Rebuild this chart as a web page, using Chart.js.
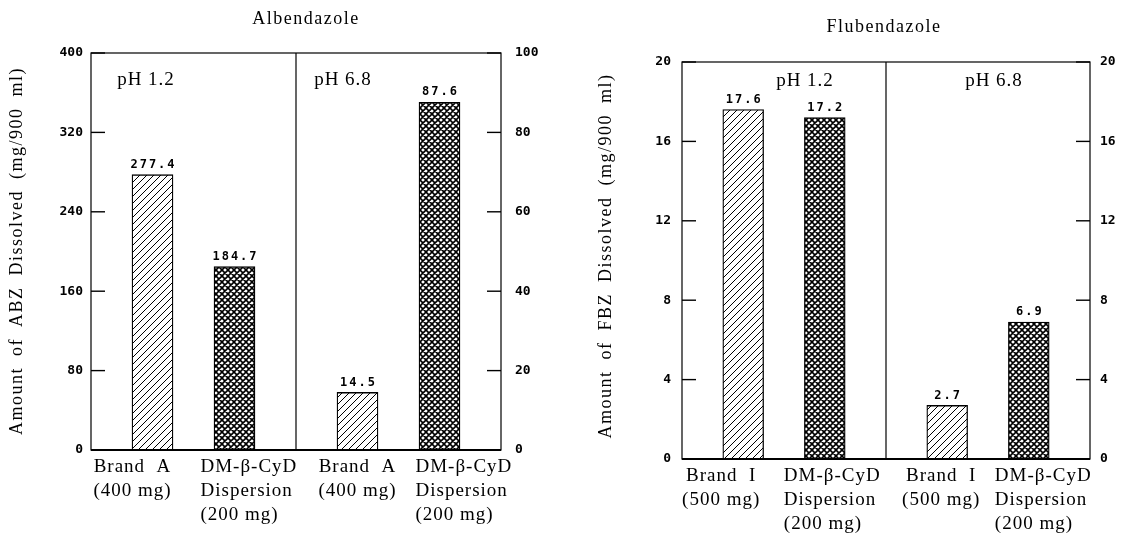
<!DOCTYPE html>
<html>
<head>
<meta charset="utf-8">
<title>Amount of ABZ / FBZ dissolved</title>
<script src="https://cdn.jsdelivr.net/npm/chart.js@4.4.1/dist/chart.umd.min.js"></script>
<style>
  html, body { margin: 0; padding: 0; background: #fff; }
  #wrap { position: relative; width: 1137px; height: 536px; overflow: hidden; }
  canvas { position: absolute; top: 0; }
  #abz { left: 0; }
  #fbz { left: 560px; }
</style>
</head>
<body>
<div id="wrap">
  <canvas id="abz" width="560" height="536"></canvas>
  <canvas id="fbz" width="577" height="536"></canvas>
</div>
<script>
/* ---------- Data ---------- */
// 10 slots per chart: empty slots are the gaps around the bars
const abzCategories = ['', ['Brand  A', '(400 mg)'], '', ['DM-β-CyD', 'Dispersion', '(200 mg)'], '',
                       '', ['Brand  A', '(400 mg)'], '', ['DM-β-CyD', 'Dispersion', '(200 mg)'], ''];
const abzPh12 = [null, 277.4, null, 184.7, null, null, null, null, null, null]; // left axis, mg/900 ml
const abzPh68 = [null, null, null, null, null, null, 14.5, null, 87.6, null];   // right axis
const abzLeftTicks = [0, 80, 160, 240, 320, 400];
const abzRightTicks = [0, 20, 40, 60, 80, 100];

const fbzCategories = ['', ['Brand  I', '(500 mg)'], '', ['DM-β-CyD', 'Dispersion', '(200 mg)'], '',
                       '', ['Brand  I', '(500 mg)'], '', ['DM-β-CyD', 'Dispersion', '(200 mg)'], ''];
const fbzPh12 = [null, 17.6, null, 17.2, null, null, null, null, null, null];
const fbzPh68 = [null, null, null, null, null, null, 2.7, null, 6.9, null];
const fbzLeftTicks = [0, 4, 8, 12, 16, 20];
const fbzRightTicks = [0, 4, 8, 12, 16, 20];

const panelLabels = ['pH 1.2', 'pH 6.8'];

/* ---------- Fill patterns ---------- */
function hatchPattern(size, dirs, lw) {
  const c = document.createElement('canvas');
  c.width = size; c.height = size;
  const g = c.getContext('2d');
  g.fillStyle = '#fff'; g.fillRect(0, 0, size, size);
  g.strokeStyle = '#000'; g.lineWidth = lw;
  g.beginPath();
  for (let k = -1; k <= 1; k++) {
    if (dirs.includes('/')) { g.moveTo(k * size, size); g.lineTo(k * size + size, 0); }
    if (dirs.includes('\\')) { g.moveTo(k * size, 0); g.lineTo(k * size + size, size); }
  }
  g.stroke();
  return g.createPattern(c, 'repeat');
}
const HATCH = hatchPattern(7, '/', 1);
const CROSS = hatchPattern(6, '/\\', 1.6);

function fillFor(c) {
  const lab = c.chart.data.labels[c.dataIndex];
  const first = Array.isArray(lab) ? lab[0] : String(lab || '');
  return first.startsWith('Brand') ? HATCH : CROSS;
}

/* ---------- Decorations: frame, inward ticks, value labels, text ---------- */
const SERIF = '"Liberation Serif", "Times New Roman", serif';
const MONO = '"DejaVu Sans Mono", monospace';

function seg(ctx, x1, y1, x2, y2) { ctx.beginPath(); ctx.moveTo(x1, y1); ctx.lineTo(x2, y2); ctx.stroke(); }

const decor = {
  id: 'decor',
  afterDatasetsDraw(chart, args, o) {
    const { ctx, chartArea: a, scales } = chart;
    const x = scales.x, yl = scales.y, yr = scales.y2;
    ctx.save();
    ctx.strokeStyle = '#000';
    ctx.fillStyle = '#000';

    // frame + divider
    ctx.lineWidth = 1.2;
    ctx.strokeRect(a.left, a.top, a.right - a.left, a.bottom - a.top);
    const mid = (x.getPixelForValue(4) + x.getPixelForValue(5)) / 2;
    seg(ctx, mid, a.top, mid, a.bottom);
    ctx.lineWidth = 1.8;
    seg(ctx, a.left, a.bottom, a.right, a.bottom);

    // inward tick marks
    ctx.lineWidth = 1.4;
    yl.ticks.forEach(t => { const py = yl.getPixelForValue(t.value); seg(ctx, a.left, py, a.left + o.tickLen, py); });
    yr.ticks.forEach(t => { const py = yr.getPixelForValue(t.value); seg(ctx, a.right - o.tickLen, py, a.right, py); });

    // values above the bars
    ctx.font = 'bold 12px ' + MONO;
    ctx.letterSpacing = '2px';
    ctx.textAlign = 'center';
    ctx.textBaseline = 'middle';
    chart.data.datasets.forEach((ds, i) => {
      chart.getDatasetMeta(i).data.forEach((el, j) => {
        const v = ds.data[j];
        if (v == null) return;
        ctx.fillText(v.toFixed(1), el.x + 1, el.y - 10);
      });
    });

    // category labels under the bars
    ctx.font = '19px ' + SERIF;
    ctx.letterSpacing = '1px';
    ctx.textBaseline = 'middle';
    chart.data.labels.forEach((lab, j) => {
      if (!Array.isArray(lab)) return;
      const s = o.labelShift[j];
      const px = x.getPixelForValue(j) + s.dx;
      ctx.textAlign = s.align;
      lab.forEach((line, k) => ctx.fillText(line, px, a.bottom + o.labelTop + k * o.labelLine));
    });

    // pH panel labels
    ctx.textAlign = 'center';
    panelLabels.forEach((t, k) => ctx.fillText(t, o.ph[k], o.phY));

    // chart title
    ctx.font = '18px ' + SERIF;
    ctx.letterSpacing = '1.5px';
    ctx.fillText(o.title, o.titleX, o.titleY);

    // y axis title
    ctx.font = '18px ' + SERIF;
    ctx.letterSpacing = '1.5px';
    ctx.wordSpacing = '5px';
    ctx.translate(o.yTitleX, o.yTitleY);
    ctx.rotate(-Math.PI / 2);
    ctx.fillText(o.yTitle, 0, 0);
    ctx.restore();
  }
};

Chart.defaults.color = '#000';

function makeChart(id, cats, ph12, ph68, leftTicks, rightTicks, box, deco) {
  const cv = document.getElementById(id);
  const W = cv.width, H = cv.height;
  const tickFont = { family: MONO, size: 13, weight: 'bold' };
  return new Chart(cv, {
    type: 'bar',
    data: {
      labels: cats,
      datasets: [
        { data: ph12, yAxisID: 'y', backgroundColor: fillFor, borderColor: '#000', borderWidth: 1.3 },
        { data: ph68, yAxisID: 'y2', backgroundColor: fillFor, borderColor: '#000', borderWidth: 1.3 }
      ]
    },
    options: {
      responsive: false,
      animation: false,
      layout: { padding: { top: box.top, left: 0, right: 0, bottom: 0 } },
      datasets: { bar: { categoryPercentage: 1, barPercentage: 1, grouped: false } },
      plugins: { legend: { display: false }, tooltip: { enabled: false }, decor: deco },
      scales: {
        x: {
          grid: { display: false, drawTicks: false }, border: { display: false },
          ticks: { display: false },
          afterFit: s => { s.height = H - box.bottom; }
        },
        y: {
          position: 'left', min: leftTicks[0], max: leftTicks[leftTicks.length - 1],
          grid: { display: false, drawTicks: false }, border: { display: false },
          ticks: { font: tickFont, padding: box.padL },
          afterBuildTicks: s => { s.ticks = leftTicks.map(v => ({ value: v })); },
          afterFit: s => { s.width = box.left; }
        },
        y2: {
          position: 'right', min: rightTicks[0], max: rightTicks[rightTicks.length - 1],
          grid: { display: false, drawTicks: false }, border: { display: false },
          ticks: { font: tickFont, padding: box.padR },
          afterBuildTicks: s => { s.ticks = rightTicks.map(v => ({ value: v })); },
          afterFit: s => { s.width = W - box.right; }
        }
      }
    },
    plugins: [decor]
  });
}

makeChart('abz', abzCategories, abzPh12, abzPh68, abzLeftTicks, abzRightTicks,
  { left: 91, right: 501, top: 53, bottom: 450, padL: 8, padR: 14 },
  {
    tickLen: 14, labelTop: 17, labelLine: 24,
    labelShift: { 1: { dx: -20, align: 'center' }, 3: { dx: -34, align: 'left' },
                  6: { dx: 0, align: 'center' }, 8: { dx: -24, align: 'left' } },
    ph: [146, 343], phY: 80,
    title: 'Albendazole', titleX: 306, titleY: 19,
    yTitle: 'Amount of ABZ Dissolved (mg/900 ml)', yTitleX: 17, yTitleY: 251
  });

makeChart('fbz', fbzCategories, fbzPh12, fbzPh68, fbzLeftTicks, fbzRightTicks,
  { left: 122, right: 530, top: 62, bottom: 459, padL: 11, padR: 10 },
  {
    tickLen: 14, labelTop: 17, labelLine: 24,
    labelShift: { 1: { dx: -22, align: 'center' }, 3: { dx: -41, align: 'left' },
                  6: { dx: -6, align: 'center' }, 8: { dx: -34, align: 'left' } },
    ph: [245, 434], phY: 81,
    title: 'Flubendazole', titleX: 324, titleY: 27,
    yTitle: 'Amount of FBZ Dissolved (mg/900 ml)', yTitleX: 46, yTitleY: 256
  });
</script>
</body>
</html>
